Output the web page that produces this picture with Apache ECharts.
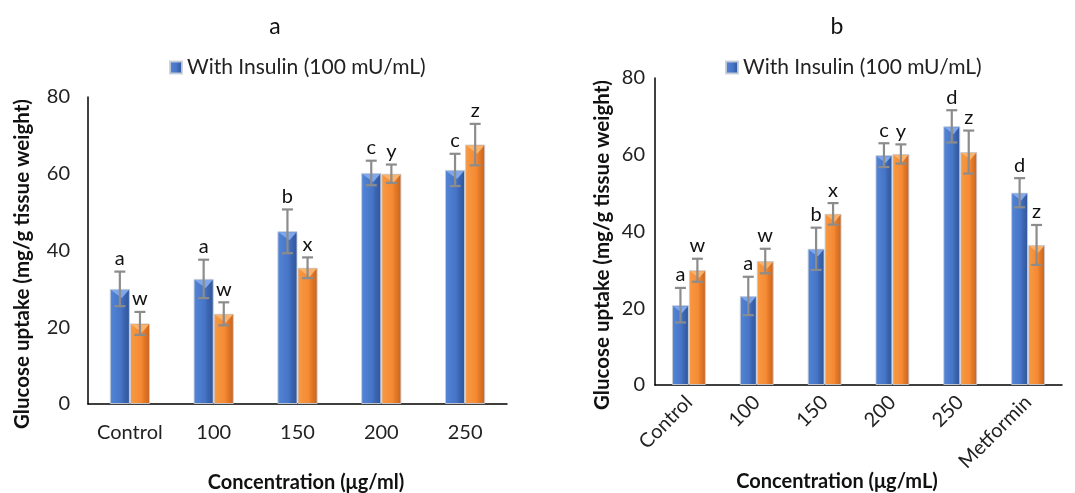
<!DOCTYPE html>
<html>
<head>
<meta charset="utf-8">
<script src="https://cdn.jsdelivr.net/npm/echarts@6/dist/echarts.min.js"></script>
<style>
html,body{margin:0;padding:0;background:#fff;}
#main{width:1075px;height:493px;}
</style>
</head>
<body>
<div id="main"></div>
<script>
// ---- Data ----
const catsA = ['Control', '100', '150', '200', '250'];
const withA = [30.0, 32.6, 45.0, 60.2, 61.0];
const withErrA = [4.5, 5.0, 5.7, 3.2, 4.2];
const withoutA = [21.0, 23.5, 35.5, 60.0, 67.6];
const withoutErrA = [3.0, 3.0, 2.7, 2.4, 5.4];
const lettersWithA = ['a', 'a', 'b', 'c', 'c'];
const lettersWithoutA = ['w', 'w', 'x', 'y', 'z'];

const catsB = ['Control', '100', '150', '200', '250', 'Metformin'];
const withB = [20.8, 23.2, 35.5, 59.9, 67.4, 50.1];
const withErrB = [4.5, 5.0, 5.5, 3.1, 4.2, 3.8];
const withoutB = [29.9, 32.3, 44.6, 60.2, 60.7, 36.5];
const withoutErrB = [3.0, 3.2, 2.8, 2.5, 5.6, 5.2];
const lettersWithB = ['a', 'a', 'b', 'c', 'd', 'd'];
const lettersWithoutB = ['w', 'w', 'x', 'y', 'z', 'z'];

const yTicks = [0, 20, 40, 60, 80];

const SER_WITH = 'With Insulin (100 mU/mL)';
const SER_WITHOUT = 'Without Insulin';
const FONT = 'Lato, "Open Sans", sans-serif';

const blueGrad = new echarts.graphic.LinearGradient(0, 0, 1, 0, [
  {offset: 0, color: '#5285D8'},
  {offset: 0.55, color: '#4775C6'},
  {offset: 0.7, color: '#3C66B4'},
  {offset: 1, color: '#2F5597'}
]);
const orangeGrad = new echarts.graphic.LinearGradient(0, 0, 1, 0, [
  {offset: 0, color: '#F89A45'},
  {offset: 0.55, color: '#F58A33'},
  {offset: 0.7, color: '#E47A28'},
  {offset: 1, color: '#C8621C'}
]);

function errSeries(idx, values, errs, letters, side, gapRatio, bevel) {
  const data = values.map((v, i) => [i, v, errs[i]]);
  return {
    type: 'custom',
    xAxisIndex: idx, yAxisIndex: idx,
    silent: true,
    z: 10,
    data: data,
    encode: {x: 0, y: 1},
    renderItem: function (params, api) {
      const i = api.value(0);
      const v = api.value(1);
      const e = api.value(2);
      const letter = letters[params.dataIndex];
      const band = api.size([1, 0])[0];
      const bw = band * (1 - gapRatio) / 2;
      const c = api.coord([i, v]);
      const x = c[0] + side * bw / 2;
      const top = api.coord([i, v + e])[1];
      const bot = api.coord([i, v - e])[1];
      const cap = 5.5;
      const st = {stroke: '#8C8C8C', lineWidth: 2.2};
      const bx0 = x - bw / 2 + 1, bx1 = x + bw / 2 - 1, by = c[1] + 1;
      return {
        type: 'group',
        children: [
          {type: 'polygon', shape: {points: [[bx0, by], [bx1, by], [x + bw * 0.1, by + bw * 0.4]]},
           style: {fill: bevel}},
          {type: 'line', shape: {x1: x, y1: top, x2: x, y2: bot}, style: st},
          {type: 'line', shape: {x1: x - cap, y1: top, x2: x + cap, y2: top}, style: st},
          {type: 'line', shape: {x1: x - cap, y1: bot, x2: x + cap, y2: bot}, style: st},
          {type: 'text', x: x, y: top - 13, style: {
            text: letter, fill: '#111', font: '20px ' + FONT,
            align: 'center', verticalAlign: 'middle'
          }}
        ]
      };
    }
  };
}

function barSeries(idx, name, values, color, gap) {
  return {
    name: name, type: 'bar',
    xAxisIndex: idx, yAxisIndex: idx,
    data: values,
    barGap: '0%',
    barCategoryGap: gap,
    itemStyle: {color: color, borderColor: 'rgba(200,205,215,0.9)', borderWidth: 1},
    emphasis: {disabled: true}
  };
}

const axisLabelY = {color: '#222', fontSize: 20, fontFamily: FONT, margin: 18};
const legendStyle = {itemWidth: 12, itemHeight: 12, itemGap: 6, padding: 0, icon: 'rect',
  textStyle: {fontSize: 21, color: '#222', fontFamily: FONT}};

const option = {
  animation: false,
  backgroundColor: '#fff',
  textStyle: {fontFamily: FONT},
  title: [
    {text: 'a', left: 270, top: 10, textAlign: 'center',
     textStyle: {fontSize: 23, fontWeight: 'normal', color: '#111', fontFamily: FONT}},
    {text: 'b', left: 832, top: 10, textAlign: 'center',
     textStyle: {fontSize: 23, fontWeight: 'normal', color: '#111', fontFamily: FONT}}
  ],
  legend: [
    Object.assign({data: [SER_WITH], left: 169, top: 57}, legendStyle),
    Object.assign({data: [SER_WITH], left: 725, top: 57}, legendStyle)
  ],
  grid: [
    {left: 88, top: 97, width: 419, height: 307},
    {left: 655, top: 78, width: 407, height: 307}
  ],
  xAxis: [
    {type: 'category', gridIndex: 0, data: catsA,
     axisLine: {lineStyle: {color: '#000', width: 1.5}}, axisTick: {show: false},
     axisLabel: {color: '#222', fontSize: 20, fontFamily: FONT, margin: 19, interval: 0}},
    {type: 'category', gridIndex: 1, data: catsB,
     axisLine: {lineStyle: {color: '#000', width: 1.5}}, axisTick: {show: false},
     axisLabel: {color: '#222', fontSize: 20, fontFamily: FONT, margin: 14, rotate: 45, interval: 0}}
  ],
  yAxis: [
    {type: 'value', gridIndex: 0, min: yTicks[0], max: yTicks[yTicks.length - 1], interval: 20,
     axisLine: {show: true, lineStyle: {color: '#000', width: 1.5}}, axisTick: {show: false},
     splitLine: {show: false}, axisLabel: axisLabelY},
    {type: 'value', gridIndex: 1, min: yTicks[0], max: yTicks[yTicks.length - 1], interval: 20,
     axisLine: {show: true, lineStyle: {color: '#000', width: 1.5}}, axisTick: {show: false},
     splitLine: {show: false}, axisLabel: Object.assign({}, axisLabelY, {margin: 10})}
  ],
  graphic: [
    {type: 'text', x: 306, y: 483, style: {text: 'Concentration (μg/ml)', font: 'bold 20px ' + FONT,
      fill: '#111', align: 'center', verticalAlign: 'middle'}},
    {type: 'text', x: 837, y: 482, style: {text: 'Concentration (μg/mL)', font: 'bold 20px ' + FONT,
      fill: '#111', align: 'center', verticalAlign: 'middle'}},
    {type: 'text', x: 22, y: 264, rotation: Math.PI / 2, style: {text: 'Glucose uptake (mg/g tissue weight)',
      font: 'bold 20.5px ' + FONT, fill: '#111', align: 'center', verticalAlign: 'middle'}},
    {type: 'text', x: 602, y: 245, rotation: Math.PI / 2, style: {text: 'Glucose uptake (mg/g tissue weight)',
      font: 'bold 20.5px ' + FONT, fill: '#111', align: 'center', verticalAlign: 'middle'}}
  ],
  series: [
    barSeries(0, SER_WITH, withA, blueGrad, '52%'),
    barSeries(0, SER_WITHOUT, withoutA, orangeGrad, '52%'),
    errSeries(0, withA, withErrA, lettersWithA, -1, 0.52, '#7FA7EA'),
    errSeries(0, withoutA, withoutErrA, lettersWithoutA, 1, 0.52, '#FBB26A'),
    barSeries(1, SER_WITH, withB, blueGrad, '50%'),
    barSeries(1, SER_WITHOUT, withoutB, orangeGrad, '50%'),
    errSeries(1, withB, withErrB, lettersWithB, -1, 0.50, '#7FA7EA'),
    errSeries(1, withoutB, withoutErrB, lettersWithoutB, 1, 0.50, '#FBB26A')
  ]
};

const chart = echarts.init(document.getElementById('main'), null, {renderer: 'canvas'});
chart.setOption(option);
</script>
</body>
</html>
